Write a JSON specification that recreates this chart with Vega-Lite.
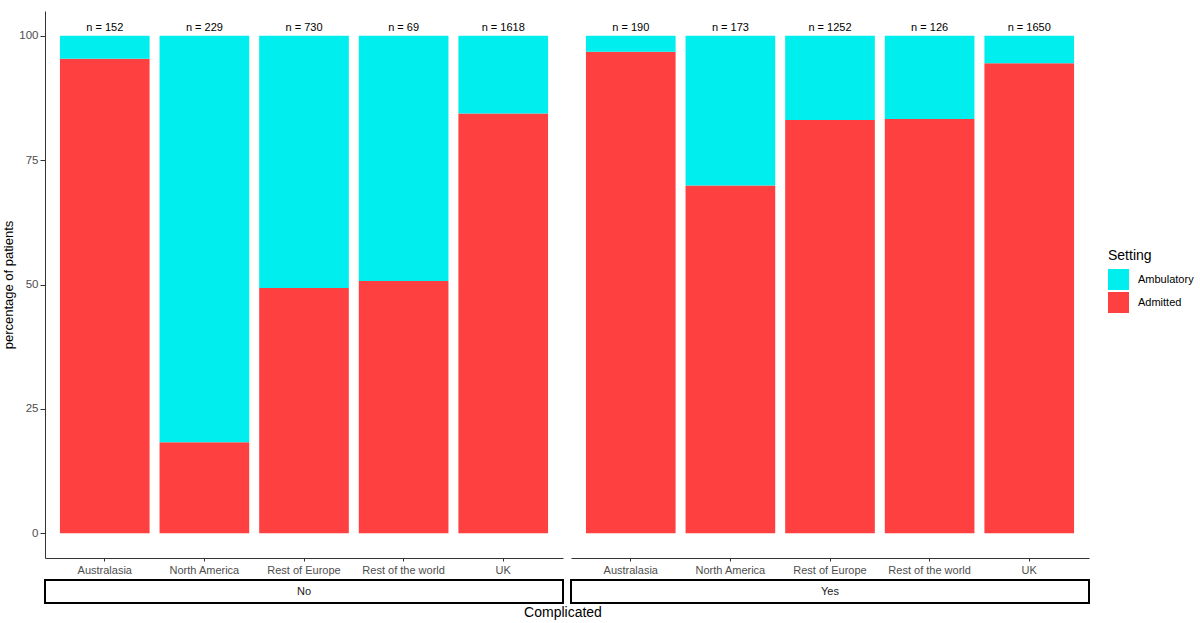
{
  "$schema": "https://vega.github.io/schema/vega-lite/v6.json",
  "padding": {"left": 2, "top": 11, "right": 0, "bottom": 0},
  "background": "white",
  "config": {
    "font": "Liberation Sans",
    "view": {"stroke": null},
    "axis": {"grid": false, "domainColor": "#333333", "tickColor": "#333333", "labelColor": "#4D4D4D", "labelFontSize": 11, "titleFontWeight": "normal", "titleColor": "black", "titleFontSize": 13}
  },
  "data": {
    "values": [
      {"complicated": "No", "region": "Australasia", "setting": "Admitted", "pct": 95.4, "label": "n =  152"},
      {"complicated": "No", "region": "Australasia", "setting": "Ambulatory", "pct": 4.6, "label": "n =  152"},
      {"complicated": "No", "region": "North America", "setting": "Admitted", "pct": 18.3, "label": "n =  229"},
      {"complicated": "No", "region": "North America", "setting": "Ambulatory", "pct": 81.7, "label": "n =  229"},
      {"complicated": "No", "region": "Rest of Europe", "setting": "Admitted", "pct": 49.3, "label": "n =  730"},
      {"complicated": "No", "region": "Rest of Europe", "setting": "Ambulatory", "pct": 50.7, "label": "n =  730"},
      {"complicated": "No", "region": "Rest of the world", "setting": "Admitted", "pct": 50.7, "label": "n =  69"},
      {"complicated": "No", "region": "Rest of the world", "setting": "Ambulatory", "pct": 49.3, "label": "n =  69"},
      {"complicated": "No", "region": "UK", "setting": "Admitted", "pct": 84.4, "label": "n =  1618"},
      {"complicated": "No", "region": "UK", "setting": "Ambulatory", "pct": 15.6, "label": "n =  1618"},
      {"complicated": "Yes", "region": "Australasia", "setting": "Admitted", "pct": 96.8, "label": "n =  190"},
      {"complicated": "Yes", "region": "Australasia", "setting": "Ambulatory", "pct": 3.2, "label": "n =  190"},
      {"complicated": "Yes", "region": "North America", "setting": "Admitted", "pct": 69.9, "label": "n =  173"},
      {"complicated": "Yes", "region": "North America", "setting": "Ambulatory", "pct": 30.1, "label": "n =  173"},
      {"complicated": "Yes", "region": "Rest of Europe", "setting": "Admitted", "pct": 83.1, "label": "n =  1252"},
      {"complicated": "Yes", "region": "Rest of Europe", "setting": "Ambulatory", "pct": 16.9, "label": "n =  1252"},
      {"complicated": "Yes", "region": "Rest of the world", "setting": "Admitted", "pct": 83.3, "label": "n =  126"},
      {"complicated": "Yes", "region": "Rest of the world", "setting": "Ambulatory", "pct": 16.7, "label": "n =  126"},
      {"complicated": "Yes", "region": "UK", "setting": "Admitted", "pct": 94.5, "label": "n =  1650"},
      {"complicated": "Yes", "region": "UK", "setting": "Ambulatory", "pct": 5.5, "label": "n =  1650"}
    ]
  },
  "title": {"text": "Complicated", "orient": "bottom", "anchor": "middle", "frame": "group", "dx": 518, "fontSize": 14, "fontWeight": "normal", "color": "black", "offset": 2},
  "hconcat": [
    {
      "vconcat": [
        {
          "width": 518,
          "height": 547,
          "transform": [{"filter": "datum.complicated === 'No'"}],
          "layer": [
            {
              "mark": {"type": "bar"},
              "encoding": {
                "x": {"field": "region", "type": "nominal", "scale": {"paddingInner": 0.1, "paddingOuter": 0.15}, "axis": {"title": null, "labelAngle": 0, "tickSize": 3, "labelPadding": 3}},
                "y": {"field": "pct", "type": "quantitative", "stack": "zero", "scale": {"domain": [-5, 105], "nice": false, "zero": false}, "axis": {"title": "percentage of patients", "values": [0, 25, 50, 75, 100], "tickSize": 5, "labelPadding": 2, "titlePadding": 3, "labelFontSize": 11.5}},
                "color": {"field": "setting", "type": "nominal", "scale": {"domain": ["Ambulatory", "Admitted"], "range": ["#00EEEE", "#FF4040"]}, "legend": {"title": "Setting", "orient": "none", "legendX": 1063, "legendY": 238, "symbolType": "square", "symbolSize": 441, "symbolStrokeWidth": 0, "titleFontSize": 14, "titleFontWeight": "normal", "titleColor": "black", "labelFontSize": 11, "labelColor": "black", "rowPadding": 2, "labelOffset": 9, "titlePadding": 6}},
                "order": {"field": "setting", "sort": "ascending"}
              }
            },
            {
              "transform": [{"filter": "datum.setting === 'Admitted'"}],
              "mark": {"type": "text", "baseline": "bottom", "dy": -3, "fontSize": 11, "color": "black"},
              "encoding": {
                "x": {"field": "region", "type": "nominal"},
                "y": {"datum": 100},
                "text": {"field": "label"}
              }
            }
          ]
        },
        {
          "width": 518,
          "height": 23,
          "view": {"stroke": "black", "strokeWidth": 2},
          "transform": [{"filter": "datum.complicated === 'No' && datum.setting === 'Admitted' && datum.region === 'UK'"}],
          "mark": {"type": "text", "fontSize": 11, "color": "#1A1A1A"},
          "encoding": {"text": {"field": "complicated"}}
        }
      ],
      "bounds": "flush",
      "spacing": 22
    },
    {
      "vconcat": [
        {
          "width": 518,
          "height": 547,
          "transform": [{"filter": "datum.complicated === 'Yes'"}],
          "layer": [
            {
              "mark": {"type": "bar"},
              "encoding": {
                "x": {"field": "region", "type": "nominal", "scale": {"paddingInner": 0.1, "paddingOuter": 0.15}, "axis": {"title": null, "labelAngle": 0, "tickSize": 3, "labelPadding": 3}},
                "y": {"field": "pct", "type": "quantitative", "stack": "zero", "scale": {"domain": [-5, 105], "nice": false, "zero": false}, "axis": null},
                "color": {"field": "setting", "type": "nominal", "scale": {"domain": ["Ambulatory", "Admitted"], "range": ["#00EEEE", "#FF4040"]}, "legend": null},
                "order": {"field": "setting", "sort": "ascending"}
              }
            },
            {
              "transform": [{"filter": "datum.setting === 'Admitted'"}],
              "mark": {"type": "text", "baseline": "bottom", "dy": -3, "fontSize": 11, "color": "black"},
              "encoding": {
                "x": {"field": "region", "type": "nominal"},
                "y": {"datum": 100},
                "text": {"field": "label"}
              }
            }
          ]
        },
        {
          "width": 518,
          "height": 23,
          "view": {"stroke": "black", "strokeWidth": 2},
          "transform": [{"filter": "datum.complicated === 'Yes' && datum.setting === 'Admitted' && datum.region === 'UK'"}],
          "mark": {"type": "text", "fontSize": 11, "color": "#1A1A1A"},
          "encoding": {"text": {"field": "complicated"}}
        }
      ],
      "bounds": "flush",
      "spacing": 22
    }
  ],
  "spacing": 6
}
